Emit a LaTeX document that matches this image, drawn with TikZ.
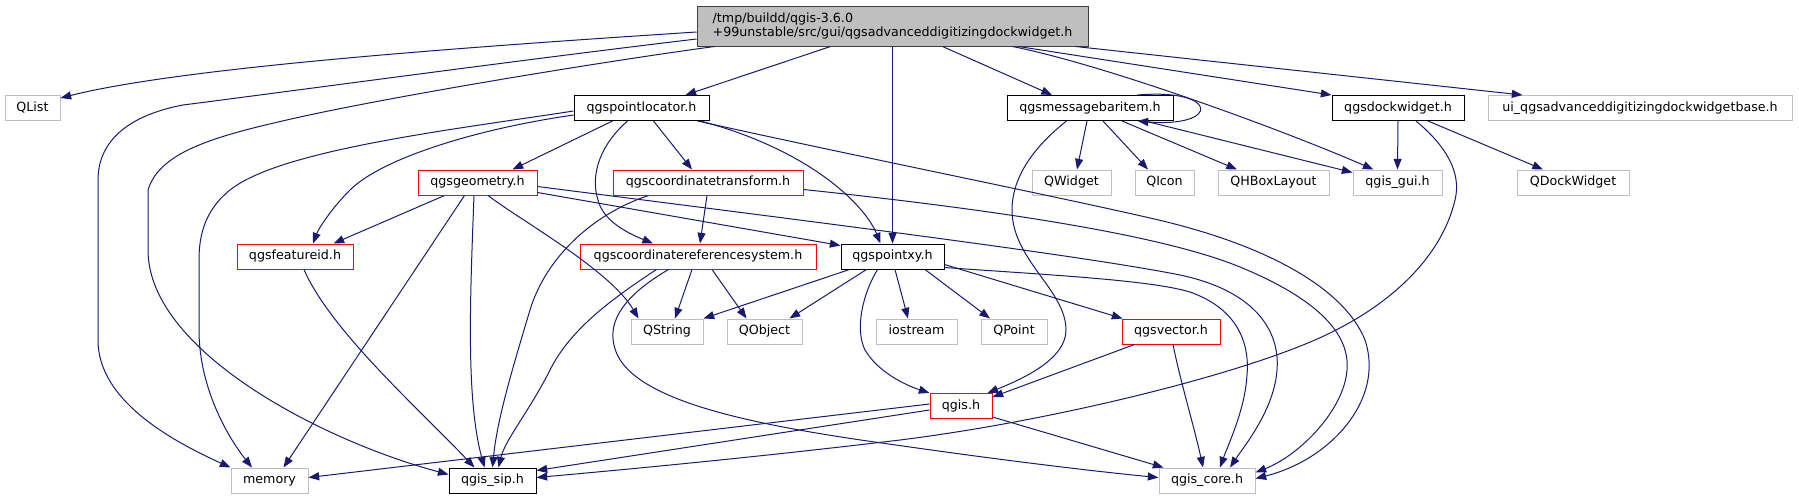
\documentclass[tikz,border=0pt]{standalone}
\usepackage{fontspec}
\setmainfont{DejaVu Sans}
\usetikzlibrary{arrows.meta,calc}
\definecolor{edgec}{HTML}{191970}
\definecolor{grayb}{HTML}{BFBFBF}
\definecolor{redb}{HTML}{FF0000}
\definecolor{mainb}{HTML}{404040}
\begin{document}
\begin{tikzpicture}[x=0.75pt,y=-0.75pt,
  box/.style={font=\fontsize{9.5}{10.5}\selectfont, inner sep=0pt, minimum height=18.75pt, line width=0.75pt, fill=white, text height=7pt, text depth=2pt},
  blk/.style={box, draw=black},
  redn/.style={box, draw=redb},
  grayn/.style={box, draw=grayb},
  mainn/.style={box, draw=mainb, fill=grayb, text height=, text depth=},
  edge/.style={draw=edgec, line width=0.75pt, -{Triangle[length=8pt,width=6pt]}}]
\path[use as bounding box] (0,0) rectangle (1799,500);
% nodes
\node[mainn, minimum width=293.25pt, minimum height=30pt, align=left] (main) at (892.5,26) {/tmp/buildd/qgis-3.6.0\\+99unstable/src/gui/qgsadvanceddigitizingdockwidget.h};
\node[grayn, minimum width=41.25pt] (qlist) at (32.5,108) {QList};
\node[blk, minimum width=101.25pt] (ploc) at (641.5,108) {qgspointlocator.h};
\node[blk, minimum width=124.5pt] (msg) at (1090,108) {qgsmessagebaritem.h};
\node[blk, minimum width=99pt] (dock) at (1398,108) {qgsdockwidget.h};
\node[grayn, minimum width=228pt] (ui) at (1640,108) {ui\_qgsadvanceddigitizingdockwidgetbase.h};
\node[redn, minimum width=89.25pt] (geom) at (477.5,182.5) {qgsgeometry.h};
\node[redn, minimum width=142.5pt] (ctr) at (708,182.5) {qgscoordinatetransform.h};
\node[grayn, minimum width=59.25pt] (qwidget) at (1071.5,182.5) {QWidget};
\node[grayn, minimum width=44.25pt] (qicon) at (1164.5,182.5) {QIcon};
\node[grayn, minimum width=83.25pt] (qhbox) at (1273.5,182.5) {QHBoxLayout};
\node[grayn, minimum width=66.75pt] (gui) at (1397.5,182.5) {qgis\_gui.h};
\node[grayn, minimum width=84pt] (qdock) at (1573,182.5) {QDockWidget};
\node[redn, minimum width=87pt] (fid) at (295,256.5) {qgsfeatureid.h};
\node[redn, minimum width=177pt] (crs) at (698,256.5) {qgscoordinatereferencesystem.h};
\node[blk, minimum width=77.25pt] (pxy) at (892.5,256.5) {qgspointxy.h};
\node[grayn, minimum width=54pt] (qstring) at (667,331.5) {QString};
\node[grayn, minimum width=56.25pt] (qobject) at (764.5,331.5) {QObject};
\node[grayn, minimum width=60.75pt] (iostream) at (916.5,331.5) {iostream};
\node[grayn, minimum width=49.5pt] (qpoint) at (1014,331.5) {QPoint};
\node[redn, minimum width=73.5pt] (vec) at (1171,331.5) {qgsvector.h};
\node[redn, minimum width=46.5pt] (qgis) at (961,406) {qgis.h};
\node[grayn, minimum width=57.75pt] (memory) at (269.5,480.5) {memory};
\node[blk, minimum width=65.25pt] (sip) at (492.5,480.5) {qgis\_sip.h};
\node[grayn, minimum width=72pt] (core) at (1207,480.5) {qgis\_core.h};
% edges from main
\draw[edge] ($(main.west)+(0,6)$) .. controls (450,48) and (180,68) .. ($(qlist.east)+(0,-10)$);
\draw[edge] ($(main.west)+(0,13)$) .. controls (520,60) and (300,90) .. (183,105) .. controls (130,115) and (98,140) .. (98,180) -- (98,340) .. controls (98,400) and (170,440) .. (memory.north west);
\draw[edge] ($(main.south west)+(18,0)$) .. controls (600,62) and (400,95) .. (300,117) .. controls (220,135) and (160,150) .. (148,190) -- (148,250) .. controls (148,350) and (320,440) .. ($(sip.west)+(0,-6)$);
\draw[edge] ($(main.south)+(-62,0)$) -- ($(ploc.north)+(44,0)$);
\draw[edge] (main.south) -- (pxy.north);
\draw[edge] ($(main.south)+(50,0)$) -- ($(msg.north)+(-38,0)$);
\draw[edge] ($(main.south)+(120,0)$) .. controls (1110,66) and (1290,133) .. ($(gui.north)+(-24,0)$);
\draw[edge] ($(main.south)+(126,0)$) -- (dock.north west);
\draw[edge] ($(main.south east)+(-13,0)$) -- ($(ui.north west)+(35,0)$);
% edges from qgsmessagebaritem
\draw[edge] ($(msg.north east)+(-36,0)$) .. controls (1220,88) and (1220,128) .. ($(msg.south east)+(-36,0)$);
\draw[edge] ($(msg.south)+(-3,0)$) -- ($(qwidget.north)+(5.5,0)$);
\draw[edge] ($(msg.south)+(13,0)$) -- ($(qicon.north)+(-16.5,0)$);
\draw[edge] ($(msg.south)+(32,0)$) -- ($(qhbox.north)+(-36.5,0)$);
\draw[edge] ($(msg.south)+(55,0)$) -- ($(gui.west)+(0,-10)$);
\draw[edge] ($(msg.south west)+(60,0)$) .. controls (1030,150) and (1012,180) .. (1012,210) .. controls (1012,260) and (1066,290) .. (1066,330) .. controls (1066,360) and (1020,380) .. ($(qgis.north east)+(-5,0)$);
% edges from qgsdockwidget
\draw[edge] (dock.south) -- (gui.north);
\draw[edge] ($(dock.south)+(30,0)$) -- ($(qdock.north)+(-30,0)$);
\draw[edge] ($(dock.south)+(18,0)$) .. controls (1445,145) and (1462,172) .. (1455,200) .. controls (1442,255) and (1395,300) .. (1336,330) .. controls (1260,370) and (1060,420) .. (900,440) .. controls (750,458) and (620,470) .. ($(sip.east)+(0,-3)$);
% edges from qgsgeometry
\draw[edge] ($(geom.south west)+(27,0)$) -- ($(fid.north east)+(-20,0)$);
\draw[edge] ($(geom.south west)+(47,0)$) -- ($(memory.north east)+(-25,0)$);
\draw[edge] ($(geom.south)+(-3.5,0)$) .. controls (470,300) and (466,400) .. ($(sip.north)+(-8,0)$);
\draw[edge] ($(geom.south)+(10.5,0)$) .. controls (520,220) and (610,270) .. ($(qstring.north west)+(8,0)$);
\draw[edge] ($(geom.east)+(0,10)$) -- ($(pxy.north west)+(0,2)$);
\draw[edge] ($(geom.east)+(0,4)$) .. controls (800,220) and (1080,255) .. (1180,275) .. controls (1260,292) and (1280,335) .. (1277,370) .. controls (1274,410) and (1245,445) .. ($(core.north)+(23,0)$);
% edges from qgscoordinatetransform
\draw[edge] ($(ctr.south)+(-1,0)$) -- ($(crs.north)+(2,0)$);
\draw[edge] ($(ctr.south west)+(36,0)$) .. controls (590,215) and (545,260) .. (530,310) .. controls (512,370) and (497,420) .. (sip.north);
\draw[edge] ($(ctr.east)+(0,7)$) .. controls (950,205) and (1150,230) .. (1240,267) .. controls (1320,300) and (1350,335) .. (1347,370) .. controls (1344,410) and (1300,455) .. ($(core.east)+(0,-8)$);
% edges from qgscoordinatereferencesystem
\draw[edge] ($(crs.south west)+(77,0)$) .. controls (610,300) and (570,330) .. (550,370) .. controls (530,410) and (505,440) .. ($(sip.north)+(6,0)$);
\draw[edge] ($(crs.south)+(-6,0)$) -- ($(qstring.north)+(8,0)$);
\draw[edge] ($(crs.south)+(14,0)$) -- ($(qobject.north)+(-18,0)$);
\draw[edge] ($(crs.south west)+(89,0)$) .. controls (625,295) and (608,320) .. (614,345) .. controls (625,400) and (750,425) .. (896,445) .. controls (1000,460) and (1100,472) .. ($(core.west)+(0,-3)$);
% edge from qgsfeatureid
\draw[edge] ($(fid.south)+(9,0)$) .. controls (330,330) and (420,410) .. ($(sip.north)+(-18,0)$);
% edges from qgspointlocator
\draw[edge] ($(ploc.west)+(0,3)$) .. controls (450,130) and (280,150) .. (230,190) .. controls (205,210) and (199,235) .. (199,260) -- (199,330) .. controls (199,390) and (230,440) .. ($(memory.north)+(-17.5,0)$);
\draw[edge] ($(ploc.west)+(0,7)$) .. controls (470,130) and (380,160) .. (350,190) .. controls (330,210) and (318,230) .. ($(fid.north)+(18,0)$);
\draw[edge] ($(ploc.south west)+(39,0)$) -- ($(geom.north)+(35,0)$);
\draw[edge] ($(ploc.south)+(-14,0)$) .. controls (600,145) and (590,175) .. (598,200) .. controls (603,220) and (625,232) .. ($(crs.north)+(-45,0)$);
\draw[edge] ($(ploc.south)+(12,0)$) -- ($(ctr.north)+(-16,0)$);
\draw[edge] ($(ploc.south east)+(-9,0)$) .. controls (810,150) and (865,205) .. ($(pxy.north)+(-12,0)$);
\draw[edge] ($(ploc.south east)+(-12,0)$) .. controls (850,155) and (1050,195) .. (1150,218) .. controls (1270,245) and (1345,290) .. (1365,340) .. controls (1385,400) and (1330,460) .. ($(core.east)+(0,-2)$);
% edges from qgspointxy
\draw[edge] ($(pxy.south west)+(9,0)$) -- (qstring.north east);
\draw[edge] ($(pxy.south west)+(26,0)$) -- ($(qobject.north east)+(-13,0)$);
\draw[edge] ($(pxy.south west)+(37,0)$) .. controls (862,295) and (855,330) .. (865,350) .. controls (878,372) and (905,385) .. (qgis.north west);
\draw[edge] ($(pxy.south)+(2.5,0)$) -- ($(iostream.north)+(-8.5,0)$);
\draw[edge] ($(pxy.south)+(32.5,0)$) -- ($(qpoint.north)+(-24,0)$);
\draw[edge] ($(pxy.east)+(0,8)$) -- ($(vec.north west)+(1,0)$);
\draw[edge] ($(pxy.east)+(0,11)$) .. controls (1050,275) and (1150,280) .. (1190,292) .. controls (1235,308) and (1250,340) .. (1247,375) .. controls (1245,410) and (1228,445) .. ($(core.north)+(13,0)$);
% edges from qgsvector
\draw[edge] ($(vec.south west)+(13,0)$) -- ($(qgis.east)+(0,-9)$);
\draw[edge] ($(vec.south)+(2,0)$) .. controls (1180,380) and (1195,430) .. ($(core.north)+(-4,0)$);
% edges from qgis.h
\draw[edge] ($(qgis.west)+(0,-2)$) -- ($(memory.east)+(0,-3)$);
\draw[edge] ($(qgis.west)+(0,4)$) -- ($(sip.east)+(0,-10)$);
\draw[edge] ($(qgis.south east)+(0,-2)$) -- ($(core.north west)+(5,0)$);
\end{tikzpicture}
\end{document}
